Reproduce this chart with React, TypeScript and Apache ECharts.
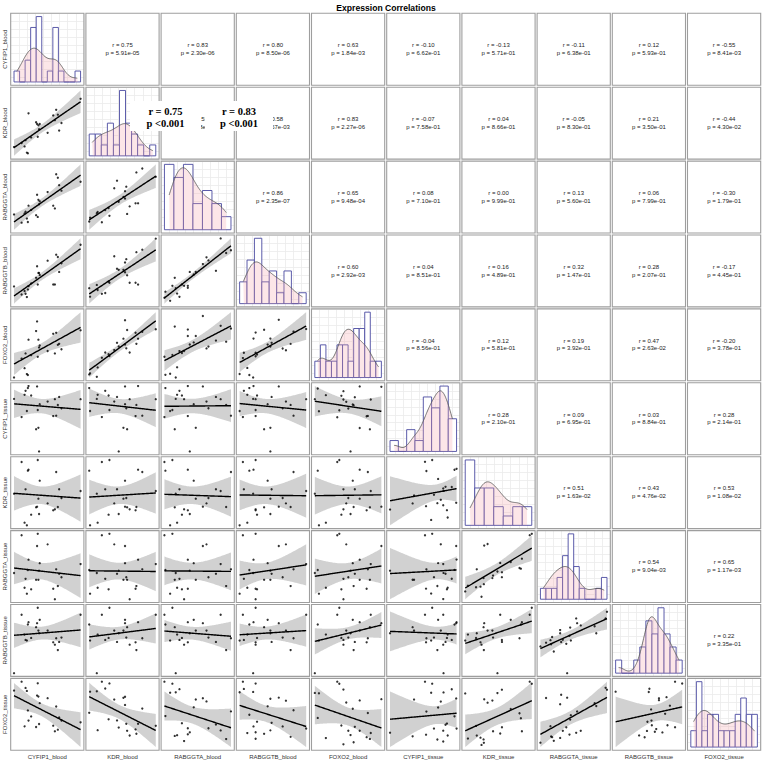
import React, { useEffect, useRef } from "react";
import * as echarts from "echarts";

// ---------- data (22 samples) ----------
const VARIABLES = [
  "CYFIP1_blood", "KDR_blood", "RABGGTA_blood", "RABGGTB_blood", "FOXO2_blood",
  "CYFIP1_tissue", "KDR_tissue", "RABGGTA_tissue", "RABGGTB_tissue", "FOXO2_tissue",
];

const CYFIP1_blood = [18, 41, 50, 53, 57, 60, 62, 70, 85, 88, 90, 92, 94, 96, 120, 137, 142, 146, 151, 155, 162, 220];
const KDR_blood = [16, 22, 17, 26, 8, 7, 65, 30, 52, 49.5, 31, 47.6, 42, 49.5, 36.7, 62, 55, 70, 63, 40, 51, 86];
const RABGGTA_blood = [26.7, 15.2, 28.1, 30.5, 21, 16.2, 39, 33, 25.7, 54.3, 23.3, 47.1, 41, 45, 58, 39, 35.2, 82.9, 78, 67.6, 60, 72.4];
const RABGGTB_blood = [28.6, 17, 22, 18.1, 13.3, 24.3, 29, 33, 41, 57.6, 31.4, 48.1, 48.1, 45, 65.7, 31.4, 31.4, 74.3, 71, 49.5, 62, 88.6];
const FOXO2_blood = [3.3, 29.5, 16.2, 36.7, 8.1, 6.7, 55.7, 34.3, 67.6, 81, 31.9, 55.7, 45, 47.6, 40, 63.8, 36.7, 65.2, 48.6, 50, 42.4, 68.6];
const CYFIP1_tissue = [77.3, 52.3, 82.9, 88.4, 60.6, 92.1, 94.9, 81.9, 35.6, 94.4, 62, 37.5, 5.1, 70, 73.6, 53.7, 76.9, 54.2, 69, 80, 64.4, 76.9];
const KDR_tissue = [48.8, 93, 8.4, 54.9, 4.7, 80.9, 82.3, 19.5, 29.8, 30.7, 95.8, 41.9, 20.5, 67, 35.3, 25.6, 27, 79, 30.2, 55, 42.8, 52.6];
const RABGGTA_tissue = [41.2, 94.4, 20.4, 32.9, 12, 45.4, 60, 18.1, 31.5, 79.2, 96.3, 31.5, 44.4, 55, 81.5, 19, 4.2, 46.3, 22.7, 40, 35.2, 53.7];
const RABGGTB_tissue = [4.7, 85.6, 58.1, 50.7, 49.8, 72.1, 75.3, 53.5, 68.4, 74, 95.3, 63.7, 60, 78.6, 63.7, 47.4, 44.2, 53, 36.7, 48, 54, 85.6];
const FOXO2_tissue = [81.9, 94.4, 31.9, 85.6, 81.5, 54.2, 40, 45.8, 31, 75, 92.1, 73.6, 35.2, 64.4, 71.3, 32.9, 25, 59.7, 27.3, 44.4, 40, 37.5];

// histogram counts per variable
const HIST_CYFIP1_blood = [1, 0, 2, 5, 6, 0, 1, 5, 1, 0, 0, 1];
const HIST_KDR_blood = [2, 2, 1, 3, 1, 6, 3, 2, 1, 0, 1];
const HIST_RABGGTA_blood = [5, 4, 5, 2, 3, 2, 1];
const HIST_RABGGTB_blood = [2, 4, 6, 2, 3, 1, 3, 0, 1];
const HIST_FOXO2_blood = [1, 2, 1, 1, 2, 2, 1, 3, 3, 4, 1, 1];
const HIST_CYFIP1_tissue = [1, 0, 2, 1, 5, 4, 6, 3];
const HIST_KDR_tissue = [7, 4, 4, 2, 1, 2, 2];
const HIST_RABGGTA_tissue = [1, 1, 1, 2, 4, 6, 3, 1, 0, 0, 1, 2];
const HIST_RABGGTB_tissue = [1, 0, 0, 1, 2, 4, 3, 5, 3, 2, 1];
const HIST_FOXO2_tissue = [1, 4, 1, 2, 2, 1, 1, 1, 2, 3, 2, 2];

// upper triangle labels, row-major (i < j)
const R_LABELS = [
  "0.75", "0.83", "0.80", "0.63", "-0.10", "-0.13", "-0.11", "0.12", "-0.55",
  "0.55", "0.58", "0.83", "-0.07", "0.04", "-0.05", "0.21", "-0.44",
  "0.86", "0.65", "0.08", "0.00", "0.13", "0.06", "-0.30",
  "0.60", "0.04", "0.16", "0.32", "0.28", "-0.17",
  "-0.04", "0.12", "0.19", "0.47", "-0.20",
  "0.28", "0.09", "0.03", "0.28",
  "0.51", "0.43", "0.53",
  "0.54", "0.65",
  "0.22",
];
const P_LABELS = [
  "5.91e-05", "2.30e-06", "8.50e-06", "1.84e-03", "6.62e-01", "5.71e-01", "6.38e-01", "5.93e-01", "8.41e-03",
  "7.98e-03", "4.67e-03", "2.27e-06", "7.58e-01", "8.66e-01", "8.30e-01", "3.50e-01", "4.30e-02",
  "2.35e-07", "9.48e-04", "7.10e-01", "9.99e-01", "5.60e-01", "7.99e-01", "1.79e-01",
  "2.92e-03", "8.51e-01", "4.89e-01", "1.47e-01", "2.07e-01", "4.45e-01",
  "8.56e-01", "5.81e-01", "3.92e-01", "2.63e-02", "3.78e-01",
  "2.10e-01", "6.95e-01", "8.84e-01", "2.14e-01",
  "1.63e-02", "4.76e-02", "1.08e-02",
  "9.04e-03", "1.17e-03",
  "3.35e-01",
];

// overlaid summary labels
const OVERLAY_R = ["r = 0.75", "r = 0.83"];
const OVERLAY_P = ["p <0.001", "p <0.001"];

const DATA = [CYFIP1_blood, KDR_blood, RABGGTA_blood, RABGGTB_blood, FOXO2_blood, CYFIP1_tissue, KDR_tissue, RABGGTA_tissue, RABGGTB_tissue, FOXO2_tissue];
const HISTS = [HIST_CYFIP1_blood, HIST_KDR_blood, HIST_RABGGTA_blood, HIST_RABGGTB_blood, HIST_FOXO2_blood, HIST_CYFIP1_tissue, HIST_KDR_tissue, HIST_RABGGTA_tissue, HIST_RABGGTB_tissue, HIST_FOXO2_tissue];

// ---------- layout ----------
const L0 = 10.7, T0 = 13.3, PW = 73.2, PH = 71.9, DX = 75.2, DY = 73.9;
const SANS = "'Liberation Sans', Arial, Helvetica, sans-serif";
const SERIF = "'Liberation Serif', 'Times New Roman', serif";

// ---------- statistics helpers ----------
const mean = (a: number[]) => a.reduce((s, v) => s + v, 0) / a.length;
function quantile(sorted: number[], p: number) {
  const h = (sorted.length - 1) * p;
  const lo = Math.floor(h), hi = Math.ceil(h);
  return sorted[lo] + (h - lo) * (sorted[hi] - sorted[lo]);
}
function kde(vals: number[], npts = 120) {
  const n = vals.length;
  const m = mean(vals);
  const sd = Math.sqrt(vals.reduce((s, v) => s + (v - m) ** 2, 0) / (n - 1));
  const sorted = [...vals].sort((a, b) => a - b);
  const iqr = quantile(sorted, 0.75) - quantile(sorted, 0.25);
  const bw = 0.9 * Math.min(sd, iqr / 1.34) * Math.pow(n, -0.2);
  const lo = sorted[0], hi = sorted[n - 1];
  const out: [number, number][] = [];
  for (let k = 0; k < npts; k++) {
    const x = lo + ((hi - lo) * k) / (npts - 1);
    let d = 0;
    for (const v of vals) d += Math.exp(-0.5 * ((x - v) / bw) ** 2);
    out.push([x, d / (n * bw * Math.sqrt(2 * Math.PI))]);
  }
  return out;
}
function linearFit(x: number[], y: number[]) {
  const n = x.length, mx = mean(x), my = mean(y);
  let sxx = 0, sxy = 0;
  for (let k = 0; k < n; k++) { sxx += (x[k] - mx) ** 2; sxy += (x[k] - mx) * (y[k] - my); }
  const b = sxy / sxx, a = my - b * mx;
  let rss = 0;
  for (let k = 0; k < n; k++) rss += (y[k] - a - b * x[k]) ** 2;
  const s2 = rss / (n - 2);
  const t = 2.086; // qt(0.975, 20)
  const xmin = Math.min(...x), xmax = Math.max(...x);
  const xs: number[] = [], fit: number[] = [], lo: number[] = [], hi: number[] = [];
  for (let k = 0; k < 80; k++) {
    const xv = xmin + ((xmax - xmin) * k) / 79;
    const f = a + b * xv;
    const se = Math.sqrt(s2 * (1 / n + (xv - mx) ** 2 / sxx));
    xs.push(xv); fit.push(f); lo.push(f - t * se); hi.push(f + t * se);
  }
  return { xs, fit, lo, hi };
}
const expand = (lo: number, hi: number) => { const r = hi - lo; return [lo - 0.05 * r, hi + 0.05 * r]; };

function buildOption() {
  const grids: any[] = [], xAxes: any[] = [], yAxes: any[] = [], series: any[] = [], graphics: any[] = [];
  const hidden = { axisLine: { show: false }, axisTick: { show: false }, axisLabel: { show: false }, splitLine: { show: false } };
  const nVar = VARIABLES.length;
  let upperIdx = 0;

  for (let i = 0; i < nVar; i++) {
    for (let j = 0; j < nVar; j++) {
      const left = L0 + j * DX, top = T0 + i * DY;
      if (i < j) {
        const cx = left + PW / 2, cy = top + PH / 2;
        graphics.push({ type: "text", x: cx, y: cy - 4.2, z: 50, style: { text: "r = " + R_LABELS[upperIdx], fontSize: 6, fontFamily: SANS, fill: "#222", align: "center", verticalAlign: "middle" } });
        graphics.push({ type: "text", x: cx, y: cy + 3.6, z: 50, style: { text: "p = " + P_LABELS[upperIdx], fontSize: 6, fontFamily: SANS, fill: "#222", align: "center", verticalAlign: "middle" } });
        upperIdx++;
      } else if (i === j) {
        const vals = DATA[i];
        const counts = HISTS[i];
        const k = counts.length;
        const vmin = Math.min(...vals), vmax = Math.max(...vals);
        const w = (vmax - vmin) / (k - 1);
        const start = vmin - w / 2;
        const bins = counts.map((c, b) => [start + b * w, start + (b + 1) * w, c]);
        const dens = kde(vals).map(([x, d]) => [x, d * vals.length * w]);
        const M = Math.max(Math.max(...counts), ...dens.map((d) => d[1]));
        const [xlo, xhi] = expand(start, start + k * w);
        grids.push({ left, top, width: PW, height: PH, show: false });
        const gi = grids.length - 1;
        // background grid axes
        xAxes.push({ gridIndex: gi, type: "value", min: 0, max: 9, interval: 1, ...hidden, splitLine: { show: true, lineStyle: { color: "#EBEBEB", width: 0.8 } } });
        yAxes.push({ gridIndex: gi, type: "value", min: 0, max: 9, interval: 1, ...hidden, splitLine: { show: true, lineStyle: { color: "#EBEBEB", width: 0.8 } } });
        // data axes
        xAxes.push({ gridIndex: gi, type: "value", min: xlo, max: xhi, ...hidden });
        const dxI = xAxes.length - 1;
        yAxes.push({ gridIndex: gi, type: "value", min: -0.05 * M, max: 1.05 * M, ...hidden });
        const dyI = yAxes.length - 1;
        series.push({
          type: "custom", xAxisIndex: dxI, yAxisIndex: dyI, silent: true, clip: true, data: bins,
          renderItem: (_p: any, api: any) => {
            const p0 = api.coord([api.value(0), 0]);
            const p1 = api.coord([api.value(1), api.value(2)]);
            return { type: "rect", shape: { x: p0[0], y: p1[1], width: p1[0] - p0[0], height: p0[1] - p1[1] }, style: { fill: "#ffffff", stroke: "#4A4AA0", lineWidth: 0.9 } };
          },
        });
        series.push({
          type: "line", xAxisIndex: dxI, yAxisIndex: dyI, data: dens, showSymbol: false, silent: true,
          lineStyle: { color: "#555555", width: 0.8 },
          areaStyle: { color: "rgba(245,160,170,0.38)" },
        });
      } else {
        const xv = DATA[j], yv = DATA[i];
        const fitRes = linearFit(xv, yv);
        const [xlo, xhi] = expand(Math.min(...xv), Math.max(...xv));
        const ylo0 = Math.min(...yv, ...fitRes.lo), yhi0 = Math.max(...yv, ...fitRes.hi);
        const [ylo, yhi] = expand(ylo0, yhi0);
        grids.push({ left, top, width: PW, height: PH, show: false });
        const gi = grids.length - 1;
        xAxes.push({ gridIndex: gi, type: "value", min: xlo, max: xhi, ...hidden });
        const xi = xAxes.length - 1;
        yAxes.push({ gridIndex: gi, type: "value", min: ylo, max: yhi, ...hidden });
        const yi = yAxes.length - 1;
        series.push({
          type: "scatter", xAxisIndex: xi, yAxisIndex: yi, silent: true, symbolSize: 2.3,
          itemStyle: { color: "#000000" }, data: xv.map((x, k) => [x, yv[k]]),
        });
        series.push({
          type: "custom", xAxisIndex: xi, yAxisIndex: yi, silent: true, clip: true,
          data: [[fitRes.xs[0], fitRes.fit[0]]],
          renderItem: (_p: any, api: any) => {
            const upper = fitRes.xs.map((x, m) => api.coord([x, fitRes.hi[m]]));
            const lower = fitRes.xs.map((x, m) => api.coord([x, fitRes.lo[m]])).reverse();
            const line = fitRes.xs.map((x, m) => api.coord([x, fitRes.fit[m]]));
            return {
              type: "group",
              children: [
                { type: "polygon", shape: { points: upper.concat(lower) }, style: { fill: "rgba(153,153,153,0.45)", stroke: null } },
                { type: "polyline", shape: { points: line }, style: { stroke: "#000000", lineWidth: 1.4, fill: null } },
              ],
            };
          },
        });
      }
      // panel border
      graphics.push({ type: "rect", z: 60, shape: { x: left, y: top, width: PW, height: PH }, style: { fill: "none", stroke: "#9E9E9E", lineWidth: 1.1 } });
    }
  }

  // row labels (left) and column labels (bottom)
  VARIABLES.forEach((name, k) => {
    graphics.push({ type: "text", x: 5.2, y: T0 + k * DY + PH / 2, rotation: Math.PI / 2, z: 50, style: { text: name, fontSize: 6, fontFamily: SANS, fill: "#333", align: "center", verticalAlign: "middle" } });
    graphics.push({ type: "text", x: L0 + k * DX + PW / 2, y: 756.5, z: 50, style: { text: name, fontSize: 6, fontFamily: SANS, fill: "#333", align: "center", verticalAlign: "middle" } });
  });

  // title
  graphics.push({ type: "text", x: 386, y: 7.5, z: 50, style: { text: "Expression Correlations", fontSize: 8.6, fontWeight: "bold", fontFamily: SANS, fill: "#000", align: "center", verticalAlign: "middle" } });

  // overlaid white label boxes
  const boxes = [{ x0: 130, x1: 201, cx: 165.5 }, { x0: 205, x1: 273, cx: 239 }];
  boxes.forEach((b, k) => {
    graphics.push({ type: "rect", z: 200, shape: { x: b.x0, y: 101, width: b.x1 - b.x0, height: 30 }, style: { fill: "#ffffff", stroke: "none" } });
    graphics.push({ type: "text", x: b.cx, y: 111.5, z: 201, style: { text: OVERLAY_R[k], fontSize: 10.5, fontWeight: "bold", fontFamily: SERIF, fill: "#000", align: "center", verticalAlign: "middle" } });
    graphics.push({ type: "text", x: b.cx, y: 123.3, z: 201, style: { text: OVERLAY_P[k], fontSize: 10.5, fontWeight: "bold", fontFamily: SERIF, fill: "#000", align: "center", verticalAlign: "middle" } });
  });

  return { animation: false, backgroundColor: "#ffffff", grid: grids, xAxis: xAxes, yAxis: yAxes, series, graphic: graphics };
}

export default function App() {
  const ref = useRef<HTMLDivElement>(null);
  useEffect(() => {
    if (!ref.current) return;
    const chart = echarts.init(ref.current, null, { renderer: "svg" });
    chart.setOption(buildOption() as any);
    return () => chart.dispose();
  }, []);
  return <div ref={ref} style={{ position: "absolute", left: 0, top: 0, width: 765, height: 761, background: "#fff" }} />;
}
